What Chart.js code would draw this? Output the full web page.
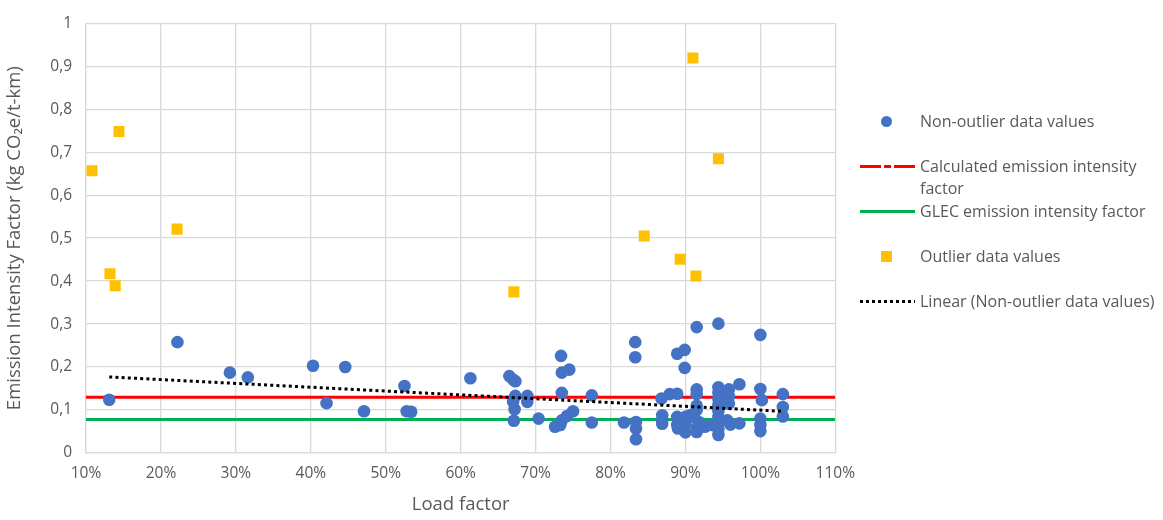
<!DOCTYPE html>
<html>
<head>
<meta charset="utf-8">
<script src="https://cdn.jsdelivr.net/npm/chart.js@4/dist/chart.umd.min.js"></script>
<style>
    body { margin: 0; background: #fff; font-family: "Open Sans", sans-serif; }
    #wrap { position: relative; width: 1163px; height: 520px; }
    #box { position: absolute; left: 0; top: 0; width: 866px; height: 520px; }
    #legend { position: absolute; left: 858px; top: 0; width: 305px; color: #595959; font-size: 16px; }
    .item { position: absolute; left: 0; display: flex; align-items: flex-start; }
    .sw { position: relative; width: 62px; height: 22px; flex: none; }
    .txt { width: 236px; line-height: 22px; }
</style>
</head>
<body>
<div id="wrap">
    <div id="box"><canvas id="chart"></canvas></div>
    <div id="legend"></div>
</div>
<script>
// Data
var nonOutlierLoad = [0.131, 0.222, 0.292, 0.316, 0.403, 0.421, 0.446, 0.471, 0.525, 0.528, 0.534,
    0.613, 0.665, 0.670, 0.673, 0.673, 0.670, 0.672, 0.671, 0.689, 0.689, 0.704,
    0.734, 0.735, 0.745, 0.735, 0.726, 0.733, 0.735, 0.742, 0.750, 0.775, 0.775,
    0.818, 0.833, 0.833, 0.834, 0.834, 0.834, 0.868, 0.869, 0.869, 0.869, 0.879, 0.889,
    0.889, 0.899, 0.899, 0.915, 0.889, 0.889, 0.890, 0.894, 0.900, 0.900, 0.900, 0.906, 0.911,
    0.915, 0.915, 0.915, 0.915, 0.915, 0.915, 0.918, 0.926, 0.935,
    0.944, 0.944, 0.944, 0.944, 0.944, 0.944, 0.944, 0.944, 0.944, 0.944,
    0.958, 0.958, 0.958, 0.956, 0.960, 0.972, 0.972,
    1.000, 1.000, 1.002, 1.000, 1.000, 1.000, 1.030, 1.030, 1.030];
var nonOutlierEF = [0.124, 0.258, 0.187, 0.176, 0.203, 0.116, 0.200, 0.097, 0.156, 0.097, 0.096,
    0.174, 0.179, 0.171, 0.167, 0.133, 0.119, 0.102, 0.075, 0.133, 0.119, 0.080,
    0.226, 0.187, 0.194, 0.140, 0.061, 0.065, 0.076, 0.086, 0.097, 0.134, 0.071,
    0.071, 0.258, 0.223, 0.072, 0.057, 0.032, 0.127, 0.088, 0.076, 0.068, 0.137, 0.138,
    0.231, 0.240, 0.198, 0.293, 0.084, 0.065, 0.057, 0.075, 0.084, 0.067, 0.048, 0.088, 0.084,
    0.148, 0.137, 0.110, 0.100, 0.058, 0.049, 0.072, 0.061, 0.065,
    0.301, 0.153, 0.140, 0.126, 0.112, 0.098, 0.084, 0.069, 0.055, 0.042,
    0.148, 0.132, 0.115, 0.076, 0.066, 0.160, 0.069,
    0.275, 0.149, 0.123, 0.080, 0.065, 0.051, 0.137, 0.107, 0.085];
var outlierLoad = [0.108, 0.144, 0.2215, 0.132, 0.139, 0.671, 0.845, 0.893, 0.910, 0.914, 0.944];
var outlierEF = [0.657, 0.748, 0.521, 0.417, 0.389, 0.375, 0.505, 0.451, 0.919, 0.412, 0.685];
var calculatedFactor = 0.13;
var glecFactor = 0.078;
var trendLoad = [0.131, 1.03];
var trendEF = [0.177, 0.097];
var xRange = [0.1, 1.1];

var labels = ['Non-outlier data values', 'Calculated emission intensity factor',
    'GLEC emission intensity factor', 'Outlier data values', 'Linear (Non-outlier data values)'];

function pairs(xs, ys) {
    return xs.map(function (x, i) { return { x: x, y: ys[i] }; });
}

var grey = '#595959';
var gridColor = '#d9d9d9';

var chart = new Chart(document.getElementById('chart').getContext('2d'), {
    type: 'scatter',
    data: {
        datasets: [
            {
                label: labels[0],
                data: pairs(nonOutlierLoad, nonOutlierEF),
                backgroundColor: '#4472C4',
                borderWidth: 0,
                pointRadius: 6.3,
                pointHoverRadius: 6.3,
                order: 1
            },
            {
                label: labels[1],
                type: 'line',
                data: pairs(xRange, [calculatedFactor, calculatedFactor]),
                borderColor: '#FF0000',
                borderWidth: 3,
                pointRadius: 0,
                order: 2
            },
            {
                label: labels[2],
                type: 'line',
                data: pairs(xRange, [glecFactor, glecFactor]),
                borderColor: '#00B050',
                borderWidth: 3,
                pointRadius: 0,
                order: 2
            },
            {
                label: labels[3],
                data: pairs(outlierLoad, outlierEF),
                backgroundColor: '#FFC000',
                borderWidth: 0,
                pointStyle: 'rect',
                pointRadius: 7.8,
                pointHoverRadius: 7.8,
                order: 1
            },
            {
                label: labels[4],
                type: 'line',
                data: pairs(trendLoad, trendEF),
                borderColor: '#000000',
                borderWidth: 3,
                borderDash: [3, 3.2],
                pointRadius: 0,
                order: 0
            }
        ]
    },
    options: {
        responsive: true,
        maintainAspectRatio: false,
        animation: false,
        layout: { padding: { left: 0, top: 21, right: 0, bottom: 0 } },
        plugins: {
            legend: { display: false },
            tooltip: { enabled: false }
        },
        scales: {
            x: {
                type: 'linear',
                min: 0.1,
                max: 1.1,
                ticks: {
                    stepSize: 0.1,
                    color: grey,
                    font: { family: 'Open Sans', size: 15.5 },
                    padding: 11,
                    maxRotation: 0,
                    callback: function (v) { return Math.round(v * 100) + '%'; }
                },
                grid: { color: gridColor, lineWidth: 1.3, drawTicks: false },
                border: { color: gridColor, width: 1.3 },
                title: {
                    display: true,
                    text: 'Load factor',
                    color: grey,
                    font: { family: 'Open Sans', size: 18.5 },
                    padding: { top: 8 }
                },
                afterFit: function (scale) { scale.height = 67; }
            },
            y: {
                min: 0,
                max: 1,
                ticks: {
                    stepSize: 0.1,
                    color: grey,
                    font: { family: 'Open Sans', size: 15.5 },
                    padding: 14,
                    callback: function (v) { return String(Math.round(v * 10) / 10).replace('.', ','); }
                },
                grid: { color: gridColor, lineWidth: 1.3, drawTicks: false },
                border: { color: gridColor, width: 1.3 },
                title: {
                    display: true,
                    text: 'Emission Intensity Factor (kg CO\u2082e/t-km)',
                    color: grey,
                    font: { family: 'Open Sans', size: 18.5 },
                    padding: { bottom: 2 }
                },
                afterFit: function (scale) { scale.width = 86; }
            }
        }
    }
});

// Legend built from the datasets
var legendRows = [121, 166, 211, 256, 301];
var legendEl = document.getElementById('legend');
chart.data.datasets.forEach(function (ds, i) {
    var item = document.createElement('div');
    item.className = 'item';
    item.style.top = (legendRows[i] - 11) + 'px';
    var sw = document.createElement('div');
    sw.className = 'sw';
    var mark = document.createElement('div');
    mark.style.position = 'absolute';
    if (ds.type === 'line') {
        mark.style.left = '2px';
        mark.style.width = '55px';
        mark.style.top = '10px';
        mark.style.height = '3px';
        if (i === 4) {
            mark.style.background = 'repeating-linear-gradient(90deg, #000 0 3px, transparent 3px 6px)';
        } else if (i === 1) {
            var c = ds.borderColor;
            mark.style.background = 'linear-gradient(90deg, ' + c + ' 0 21px, transparent 21px 24px, ' +
                c + ' 24px 31px, transparent 31px 34px, ' + c + ' 34px 55px)';
        } else {
            mark.style.background = ds.borderColor;
        }
    } else if (ds.pointStyle === 'rect') {
        mark.style.left = '23px'; mark.style.top = '6px';
        mark.style.width = '11px'; mark.style.height = '11px';
        mark.style.background = ds.backgroundColor;
    } else {
        mark.style.left = '23px'; mark.style.top = '6px';
        mark.style.width = '11px'; mark.style.height = '11px';
        mark.style.borderRadius = '50%';
        mark.style.background = ds.backgroundColor;
    }
    sw.appendChild(mark);
    var txt = document.createElement('div');
    txt.className = 'txt';
    txt.textContent = ds.label;
    item.appendChild(sw);
    item.appendChild(txt);
    legendEl.appendChild(item);
});
</script>
</body>
</html>
